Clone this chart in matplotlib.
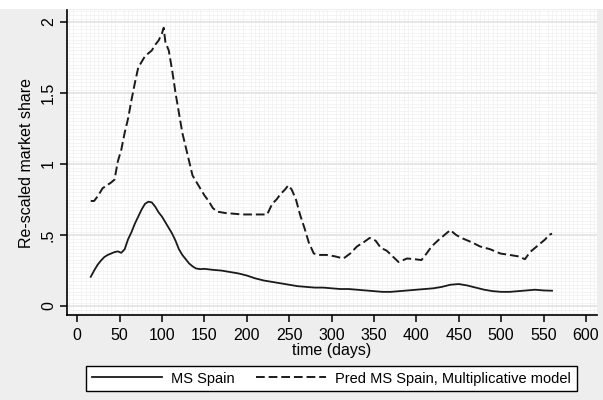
import matplotlib
matplotlib.use("Agg")
import matplotlib.pyplot as plt
from matplotlib.ticker import MultipleLocator
from matplotlib.patches import Rectangle

plt.rcParams['font.family'] = ['Liberation Sans', 'DejaVu Sans']

# observed market share, Spain
ms_days = [16, 20, 24, 28, 32, 36, 40, 44, 48, 52, 56,
           60, 64, 68, 72, 76, 80, 84, 88, 92, 96,
           100, 104, 108, 112, 116, 120, 124, 128, 132, 136, 140,
           145, 150,
           160, 170, 180, 190, 200, 210, 220, 230, 240, 250,
           260, 270, 280, 290, 300, 310, 320, 330, 340, 350,
           360, 370, 380, 390, 400, 410, 420, 430, 440, 450,
           460, 470, 480, 490, 500, 510, 520, 530, 540, 550, 560]
ms_spain = [0.206, 0.25, 0.29, 0.32, 0.345, 0.36, 0.37, 0.38, 0.385, 0.375, 0.40,
            0.47, 0.52, 0.58, 0.63, 0.68, 0.72, 0.735, 0.73, 0.70, 0.66,
            0.63, 0.59, 0.55, 0.51, 0.46, 0.40, 0.36, 0.33, 0.30, 0.28, 0.265,
            0.26, 0.262,
            0.255, 0.25, 0.24, 0.23, 0.215, 0.195, 0.18, 0.17, 0.16, 0.15,
            0.14, 0.135, 0.13, 0.13, 0.125, 0.12, 0.12, 0.115, 0.11, 0.105,
            0.10, 0.10, 0.105, 0.11, 0.115, 0.12, 0.125, 0.135, 0.15, 0.155,
            0.145, 0.13, 0.115, 0.105, 0.10, 0.10, 0.105, 0.11, 0.115, 0.11, 0.108]

# predicted share, multiplicative model
pred_days = [16, 20, 25, 30, 35, 40, 44, 48, 52, 56,
             60, 64, 68, 72, 76, 80, 84, 88, 92, 96,
             100, 102, 104, 108, 112, 116, 120, 124, 128, 132,
             136, 140, 145, 150, 155, 160, 165, 175, 185, 195,
             205, 215, 224, 230, 235, 240, 245, 249, 253, 258,
             263, 268, 273, 279, 285, 294, 304, 314, 322, 330,
             338, 345, 352, 358, 365, 372, 379, 389, 398, 406,
             412, 418, 426, 433, 440, 447, 455, 465, 475, 487,
             499, 510, 520, 528, 534, 540, 546, 552, 556, 560]
pred_spain = [0.74, 0.74, 0.78, 0.83, 0.85, 0.87, 0.89, 1.02, 1.10, 1.22,
              1.32, 1.45, 1.57, 1.68, 1.72, 1.76, 1.78, 1.80, 1.84, 1.87,
              1.92, 1.96, 1.86, 1.80, 1.66, 1.50, 1.36, 1.22, 1.12, 1.02,
              0.92, 0.88, 0.83, 0.78, 0.74, 0.69, 0.665, 0.655, 0.65, 0.645,
              0.645, 0.645, 0.645, 0.72, 0.75, 0.79, 0.82, 0.85, 0.82, 0.75,
              0.64, 0.55, 0.45, 0.37, 0.36, 0.36, 0.35, 0.335, 0.37, 0.42,
              0.45, 0.48, 0.46, 0.41, 0.39, 0.35, 0.31, 0.335, 0.33, 0.324,
              0.37, 0.42, 0.465, 0.50, 0.535, 0.50, 0.475, 0.45, 0.42, 0.40,
              0.37, 0.36, 0.35, 0.33, 0.38, 0.41, 0.44, 0.47, 0.50, 0.51]

x_ticks = [0, 50, 100, 150, 200, 250, 300, 350, 400, 450, 500, 550, 600]
y_ticks = [0, 0.5, 1, 1.5, 2]
y_tick_labels = ['0', '.5', '1', '1.5', '2']

fig = plt.figure(figsize=(6.03, 4.0), dpi=100, facecolor='#eeeeee')
fig.patches.append(Rectangle((0, 1 - 9 / 400), 1, 9 / 400, transform=fig.transFigure,
                             facecolor='white', edgecolor='none', zorder=0))
ax = fig.add_axes([67 / 603, 1 - 315 / 400, 530 / 603, 305 / 400])
ax.set_facecolor('white')

ax.plot(ms_days, ms_spain, color='#1a1a1a', lw=1.3, label='MS Spain')
ax.plot(pred_days, pred_spain, color='#1a1a1a', lw=1.4, dashes=(4.5, 2),
        label='Pred MS Spain, Multiplicative model')

ax.set_xlim(-12, 613)
ax.set_ylim(-0.063, 2.085)
ax.set_xticks(x_ticks)
ax.set_yticks(y_ticks)
ax.set_yticklabels(y_tick_labels, rotation=90, va='center')

# faint background mesh plus major horizontal rules
ax.xaxis.set_minor_locator(MultipleLocator(5))
ax.yaxis.set_minor_locator(MultipleLocator(0.025))
ax.grid(which='minor', color='#f3f3f3', lw=0.6)
ax.grid(which='major', axis='y', color='#e2e2e2', lw=1.2)
ax.tick_params(which='minor', length=0)
ax.tick_params(which='major', direction='out', length=5, width=1.1,
               labelsize=11.5, color='black')
ax.tick_params(axis='x', pad=4)
ax.tick_params(axis='y', pad=3)
ax.set_axisbelow(True)

for side in ['top', 'right']:
    ax.spines[side].set_visible(False)
for side in ['left', 'bottom']:
    ax.spines[side].set_linewidth(1.2)

ax.set_xlabel('time (days)', fontsize=11.5, labelpad=0.5)
ax.set_ylabel('Re-scaled market share', fontsize=11.5, labelpad=5)

leg = fig.legend(loc='center', bbox_to_anchor=(331.5 / 603, 1 - 378.5 / 400), ncol=2,
                 fontsize=10.5, frameon=True, fancybox=False, edgecolor='black',
                 framealpha=1, handlelength=4.8, columnspacing=1.5,
                 borderpad=0.4, handletextpad=0.6)
leg.get_frame().set_linewidth(1.0)

fig.savefig('out.png', dpi=100, facecolor=fig.get_facecolor())
